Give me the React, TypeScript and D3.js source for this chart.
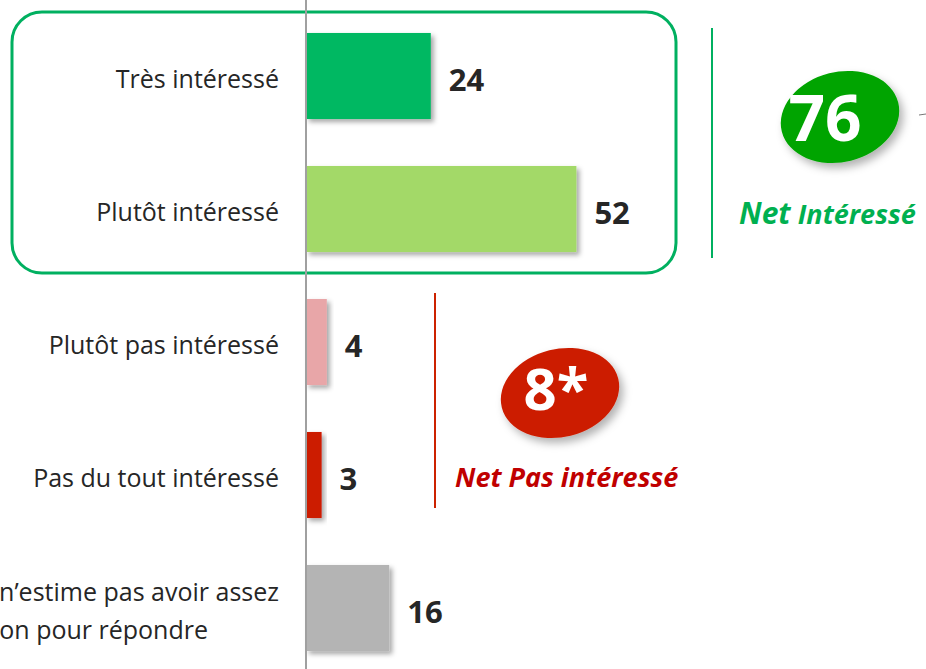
import React from 'react';
import * as d3 from 'd3';

// Horizontal bar chart of interest levels, with two "net" bubbles.
const categories = [
  'Très intéressé',
  'Plutôt intéressé',
  'Plutôt pas intéressé',
  'Pas du tout intéressé',
  'NSP',
];
const values = [24, 52, 4, 3, 16];
const barColors = ['#00b862', '#a3d967', '#e8a6a8', '#cc1a00', '#b4b4b4'];
const lastLabelLines = ['Ne sait pas / n\u2019estime pas avoir assez', 'd\u2019information pour répondre'];

const netLabels = ['Net', 'Net Pas intéressé'];
const netValues = ['76', '8*'];

const W = 926;
const H = 669;
const AXIS_X = 306;
const FONT = '"Open Sans", "Noto Sans", sans-serif';

const App = () => {
  const x = d3.scaleLinear().domain([0, 100]).range([AXIS_X, AXIS_X + 520]);
  const y = d3
    .scaleBand()
    .domain(categories)
    .range([9.5, 674.5])
    .paddingInner(0.353)
    .paddingOuter(0.1765);
  const mid = (c: string) => (y(c) ?? 0) + y.bandwidth() / 2;

  return (
    <svg
      width={W}
      height={H}
      style={{ position: 'absolute', left: 0, top: 0, background: 'white' }}
      fontFamily={FONT}
    >
      <defs>
        <filter id="shadow" x="-20%" y="-20%" width="150%" height="150%">
          <feDropShadow dx="3" dy="3" stdDeviation="2.5" floodColor="#000" floodOpacity="0.35" />
        </filter>
        <filter id="bshadow" x="-30%" y="-30%" width="170%" height="170%">
          <feDropShadow dx="4" dy="5" stdDeviation="4" floodColor="#000" floodOpacity="0.3" />
        </filter>
      </defs>

      {/* green frame around the positive group */}
      <rect x={12} y={12} width={664} height={261} rx={30} fill="none" stroke="#00b060" strokeWidth={3} />

      {/* bars */}
      {categories.map((c, i) => (
        <rect
          key={c}
          x={x(0)}
          y={y(c)}
          width={x(values[i]) - x(0)}
          height={y.bandwidth()}
          fill={barColors[i]}
          filter="url(#shadow)"
        />
      ))}

      {/* axis */}
      <line x1={AXIS_X} x2={AXIS_X} y1={0} y2={H} stroke="#a0a0a0" strokeWidth={2} />

      {/* value labels */}
      {categories.map((c, i) => (
        <text key={c} x={x(values[i]) + 18} y={mid(c) + 15} fontSize={31} fontWeight="bold" fill="#262626">
          {values[i]}
        </text>
      ))}

      {/* category labels */}
      {categories.slice(0, 4).map((c) => (
        <text key={c} x={279} y={mid(c) + 12} textAnchor="end" fontSize={25} fill="#262626">
          {c}
        </text>
      ))}
      {/* last label runs off the left edge, as in the source slide */}
      <text x={279} y={mid(categories[4]) - 7} textAnchor="end" fontSize={25} fill="#262626">
        {lastLabelLines[0]}
      </text>
      <text x={208} y={mid(categories[4]) + 31} textAnchor="end" fontSize={25} fill="#262626">
        {lastLabelLines[1]}
      </text>

      {/* net intéressé */}
      <line x1={712} x2={712} y1={28} y2={258} stroke="#00b060" strokeWidth={2} />
      <g filter="url(#bshadow)">
        <ellipse cx={840} cy={117} rx={60} ry={45} fill="#00a400" transform="rotate(-14 840 117)" />
      </g>
      <text x={825} y={118} dy="0.36em" textAnchor="middle" fontSize={64} fontWeight="bold" fill="white">
        {netValues[0]}
      </text>
      <line x1={919} x2={926} y1={115} y2={114} stroke="#777" strokeWidth={1} />
      <text x={739} y={224} fontWeight="bold" fontStyle="italic" fill="#00b050">
        <tspan fontSize={30}>{netLabels[0]}</tspan>
        <tspan fontSize={27}> Intéressé</tspan>
      </text>

      {/* net pas intéressé */}
      <line x1={435} x2={435} y1={293} y2={508} stroke="#cc2200" strokeWidth={2} />
      <g filter="url(#bshadow)">
        <ellipse cx={560} cy={393} rx={60} ry={44} fill="#cc1f00" transform="rotate(-14 560 393)" />
      </g>
      <text x={556} y={389} dy="0.36em" textAnchor="middle" fontSize={58} fontWeight="bold" fill="white">
        {netValues[1]}
      </text>
      <text x={455} y={487} fontSize={27} fontWeight="bold" fontStyle="italic" fill="#c00000">
        {netLabels[1]}
      </text>
    </svg>
  );
};

export default App;
